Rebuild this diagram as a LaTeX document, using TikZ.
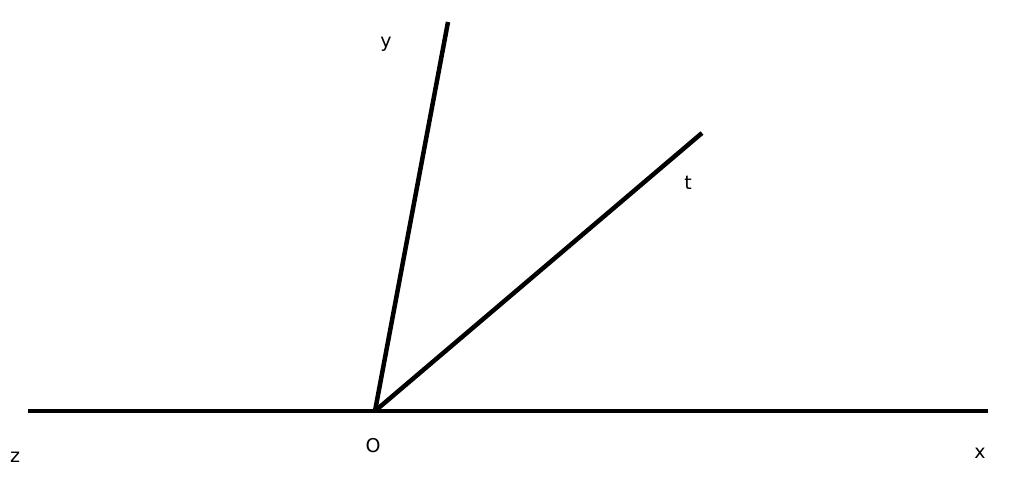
\documentclass[tikz,border=0pt]{standalone}
\usepackage{fontspec}
\setmainfont{DejaVu Sans}
\begin{document}
\begin{tikzpicture}[x=1pt,y=1pt,
  ray/.style={line width=4.5pt,black},
  lbl/.style={font=\fontsize{19}{22}\selectfont,inner sep=0pt}]
\useasboundingbox (0,0) rectangle (1024,488);
\coordinate (O) at (375,77);
\coordinate (Z) at (28,77);
\coordinate (X) at (988,77);
\coordinate (Y) at (448,466);
\coordinate (T) at (702,355);
\draw[ray] (Z) -- (X);
\draw[ray] (O) -- (Y);
\draw[ray] (O) -- (T);
\node[lbl] (ly) at (386,444) {y};
\node[lbl] (lt) at (688,305) {t};
\node[lbl] (lz) at (15,31) {z};
\node[lbl] (lo) at (373,42) {O};
\node[lbl] (lx) at (980,35) {x};
\end{tikzpicture}
\end{document}
